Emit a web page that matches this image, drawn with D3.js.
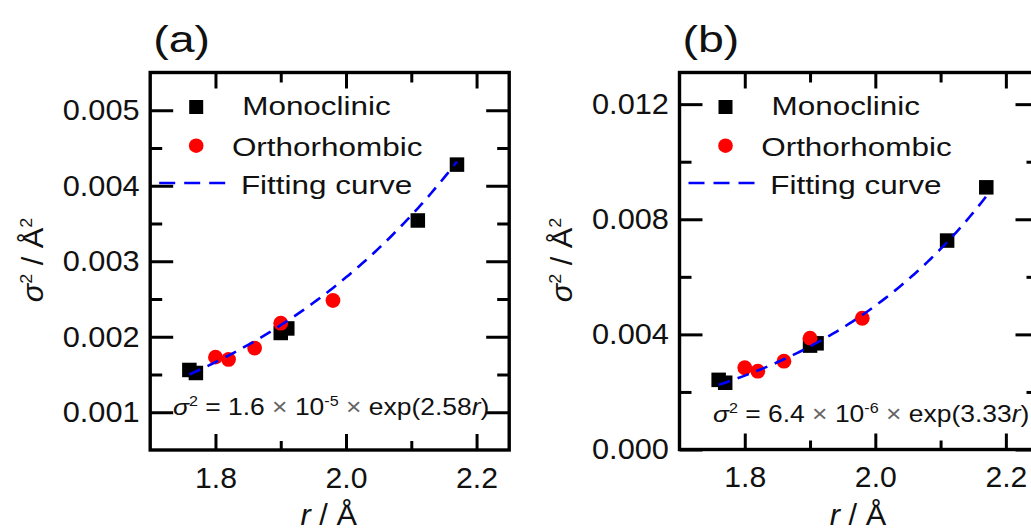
<!DOCTYPE html>
<html><head><meta charset="utf-8">
<script src="https://cdn.jsdelivr.net/npm/d3@7"></script>
<style>
body{margin:0;background:#fff;}
svg{display:block;}
text{font-family:"Liberation Sans",Arial,sans-serif;fill:#111;}
</style>
</head><body>
<svg id="c" width="1031" height="531"></svg>
<script>
// ---------- data ----------
const monoR_a  = [1.76, 1.77, 1.90, 1.91, 2.11, 2.17];
const monoS_a  = [0.00156, 0.00152, 0.00205, 0.00211, 0.00354, 0.00428];
const orthoR_a = [1.80, 1.82, 1.86, 1.90, 1.98];
const orthoS_a = [0.00173, 0.00170, 0.00185, 0.00218, 0.00248];
const fit_a    = [1.6e-5, 2.58];          // sigma^2 = A * exp(k r)

const monoR_b  = [1.76, 1.77, 1.90, 1.91, 2.11, 2.17];
const monoS_b  = [0.00242, 0.00232, 0.00361, 0.00369, 0.00726, 0.00911];
const orthoR_b = [1.80, 1.82, 1.86, 1.90, 1.98];
const orthoS_b = [0.00284, 0.00272, 0.00307, 0.00387, 0.00456];
const fit_b    = [6.4e-6, 3.33];

const fitRange = [1.76, 2.17];
const xTicks   = [1.8, 2.0, 2.2];
const xMinor   = [1.9, 2.1];
const yTicks_a = [0.001, 0.002, 0.003, 0.004, 0.005];
const yMinor_a = [0.0015, 0.0025, 0.0035, 0.0045];
const yTicks_b = [0.000, 0.004, 0.008, 0.012];
const yMinor_b = [0.002, 0.006, 0.010];
const legendLabels = ["Monoclinic", "Orthorhombic", "Fitting curve"];

// ---------- helpers ----------
const svg = d3.select("#c");
function stext(parent, x, y, anchor, size, sx, rot) {
  const g = parent.append("g")
    .attr("transform", `translate(${x},${y})` + (rot ? ` rotate(${rot})` : "") + ` scale(${sx},1)`);
  return g.append("text").attr("text-anchor", anchor).attr("font-size", size);
}

function panel(cfg) {
  const L = cfg.left, T = 72.5, W = 359, B = cfg.bottom;
  const x = d3.scaleLinear().domain([1.7, 2.25]).range([L, L + W]);
  const y = d3.scaleLinear().domain(cfg.yDomain).range([B, T]);
  const g = svg.append("g");

  // title
  stext(g, L + 3, 52, "start", 37.5, 1.24).text(cfg.title);

  // axes (ticks inward)
  const styleAxis = sel => {
    sel.select(".domain").remove();
    sel.selectAll(".tick line").attr("stroke", "#000").attr("stroke-width", 3);
  };
  const fmt = d3.format(".3f");
  const la = g.append("g").attr("transform", `translate(${L},0)`)
    .call(d3.axisLeft(y).tickValues(cfg.yTicks).tickSize(-23).tickPadding(10).tickFormat(fmt));
  styleAxis(la);
  la.selectAll(".tick text").attr("font-size", 29).attr("font-family", "Liberation Sans, Arial, sans-serif")
    .attr("fill", "#111").attr("transform", "scale(1.06,1)");
  g.append("g").attr("transform", `translate(${L},0)`)
    .call(d3.axisLeft(y).tickValues(cfg.yMinor).tickSize(-12).tickFormat("")).call(styleAxis);
  g.append("g").attr("transform", `translate(${L + W},0)`)
    .call(d3.axisRight(y).tickValues(cfg.yTicks).tickSize(-23).tickFormat("")).call(styleAxis);
  g.append("g").attr("transform", `translate(${L + W},0)`)
    .call(d3.axisRight(y).tickValues(cfg.yMinor).tickSize(-12).tickFormat("")).call(styleAxis);
  const ba = g.append("g").attr("transform", `translate(0,${B})`)
    .call(d3.axisBottom(x).tickValues(xTicks).tickSize(-16).tickPadding(17).tickFormat(d3.format(".1f")));
  styleAxis(ba);
  ba.selectAll(".tick text").attr("font-size", 29).attr("font-family", "Liberation Sans, Arial, sans-serif")
    .attr("fill", "#111").attr("dy", "0.71em").attr("transform", "scale(1.04,1)");
  g.append("g").attr("transform", `translate(0,${B})`)
    .call(d3.axisBottom(x).tickValues(xMinor).tickSize(-9).tickFormat("")).call(styleAxis);
  g.append("g").attr("transform", `translate(0,${T})`)
    .call(d3.axisTop(x).tickValues(xTicks).tickSize(-16).tickFormat("")).call(styleAxis);
  g.append("g").attr("transform", `translate(0,${T})`)
    .call(d3.axisTop(x).tickValues(xMinor).tickSize(-10).tickFormat("")).call(styleAxis);

  // frame
  g.append("rect").attr("x", L).attr("y", T).attr("width", W).attr("height", B - T)
    .attr("fill", "none").attr("stroke", "#000").attr("stroke-width", 3.4);

  // data: squares, circles, curve
  const sq = 14.5;
  g.selectAll(".mono").data(d3.zip(cfg.monoR, cfg.monoS)).join("rect")
    .attr("x", d => x(d[0]) - sq / 2).attr("y", d => y(d[1]) - sq / 2)
    .attr("width", sq).attr("height", sq).attr("fill", "#000");
  g.selectAll(".ortho").data(d3.zip(cfg.orthoR, cfg.orthoS)).join("circle")
    .attr("cx", d => x(d[0])).attr("cy", d => y(d[1])).attr("r", 7.4).attr("fill", "#ff0000");
  const rs = d3.range(fitRange[0], fitRange[1] + 1e-9, 0.005);
  g.append("path").datum(rs.map(r => [r, cfg.fit[0] * Math.exp(cfg.fit[1] * r)]))
    .attr("d", d3.line().x(d => x(d[0])).y(d => y(d[1])))
    .attr("fill", "none").attr("stroke", "#0000ff").attr("stroke-width", 2.6)
    .attr("stroke-dasharray", "12,8");

  // legend
  g.append("rect").attr("x", L + 46 - 7).attr("y", T + 34.5 - 7).attr("width", 14).attr("height", 14).attr("fill", "#000");
  g.append("circle").attr("cx", L + 46).attr("cy", T + 73.2).attr("r", 7.3).attr("fill", "#ff0000");
  g.append("line").attr("x1", L + 9).attr("x2", L + 78).attr("y1", T + 110.5).attr("y2", T + 110.5)
    .attr("stroke", "#0000ff").attr("stroke-width", 2.6).attr("stroke-dasharray", "16,9");
  stext(g, L + 92, T + 42.5, "start", 26, 1.21).text(legendLabels[0]);
  stext(g, L + 81.7, T + 83.5, "start", 26, 1.21).text(legendLabels[1]);
  stext(g, L + 90.7, T + 121.5, "start", 26, 1.21).text(legendLabels[2]);

  // equation
  const eq = stext(g, cfg.eqX, cfg.eqY, "start", 23, 1.15);
  eq.append("tspan").attr("font-style", "italic").text("σ");
  eq.append("tspan").attr("font-size", 14).attr("dy", -9).text("2");
  eq.append("tspan").attr("dy", 9).text(" = " + cfg.fitText[0] + " ");
  eq.append("tspan").attr("fill", "#666").text("×");
  eq.append("tspan").text(" 10");
  eq.append("tspan").attr("font-size", 14).attr("dy", -9).text(cfg.fitText[1]);
  eq.append("tspan").attr("dy", 9).text(" ");
  eq.append("tspan").attr("fill", "#666").text("×");
  eq.append("tspan").text(" exp(" + cfg.fit[1].toFixed(2));
  eq.append("tspan").attr("font-style", "italic").text("r");
  eq.append("tspan").text(")");

  // axis titles
  const xl = stext(g, L + 178.5, 525, "middle", 29, 1.06);
  xl.append("tspan").attr("font-style", "italic").text("r");
  xl.append("tspan").text(" / Å");
  const yl = stext(g, cfg.ylX, 260, "middle", 29, 1.06, -90);
  yl.append("tspan").attr("font-style", "italic").text("σ");
  yl.append("tspan").attr("font-size", 17).attr("dy", -11).text("2");
  yl.append("tspan").attr("dy", 11).text(" / Å");
  yl.append("tspan").attr("font-size", 17).attr("dy", -11).text("2");
}

panel({ title: "(a)", left: 150.2, bottom: 450, yDomain: [0.0005, 0.0055],
  yTicks: yTicks_a, yMinor: yMinor_a, monoR: monoR_a, monoS: monoS_a,
  orthoR: orthoR_a, orthoS: orthoS_a, fit: fit_a, fitText: ["1.6", "-5"],
  eqX: 173, eqY: 415, ylX: 43 });
panel({ title: "(b)", left: 679.5, bottom: 449.5, yDomain: [0, 0.0131],
  yTicks: yTicks_b, yMinor: yMinor_b, monoR: monoR_b, monoS: monoS_b,
  orthoR: orthoR_b, orthoS: orthoS_b, fit: fit_b, fitText: ["6.4", "-6"],
  eqX: 713, eqY: 421.5, ylX: 572 });
</script>
</body></html>
